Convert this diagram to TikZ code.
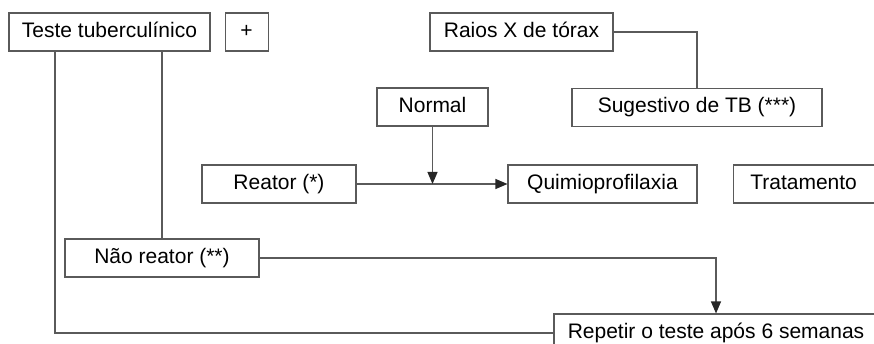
\documentclass[tikz,border=0pt]{standalone}
\usepackage{fontspec}
\setmainfont{Liberation Sans}
\usepackage{tikz}
\usetikzlibrary{positioning}
\usetikzlibrary{arrows.meta}

\definecolor{linegray}{HTML}{5A5A5A}

\tikzset{
  caixa/.style={draw=linegray, line width=1.1pt, rectangle, minimum height=38pt,
    inner sep=0pt, text height=15pt, text depth=4pt, text=black},
  liga/.style={draw=linegray, line width=1.1pt},
}

\begin{document}
\begin{tikzpicture}[x=1pt, y=-1pt, >={Triangle[width=10pt,length=12pt,color=black!85]},
    font=\fontsize{21}{25}\selectfont]
        \useasboundingbox (0,0) rectangle (874,344);

        % linha superior
        \node[caixa, minimum width=201pt] (teste) at (109.5,32) {Teste tuberculínico};
        \node[caixa, minimum width=43pt, right=14pt of teste] (mais) {+};
        \node[caixa, minimum width=183pt] (raios) at (521.5,32) {Raios X de tórax};

        % resultados da radiografia
        \node[caixa, minimum width=111pt] (normal) at (432.5,107) {Normal};
        \node[caixa, minimum width=250pt] (sugest) at (697,107.5) {Sugestivo de TB (***)};

        % condutas
        \node[caixa, minimum width=154pt] (reator) at (279,184) {Reator (*)};
        \node[caixa, minimum width=189pt] (quimio) at (602.5,184) {Quimioprofilaxia};
        \node[caixa, minimum width=141pt, right=35pt of quimio] (trat) {Tratamento};

        % não reatores
        \node[caixa, minimum width=194pt] (naoreator) at (162,258) {Não reator (**)};
        \node[caixa, minimum width=324pt] (repetir) at (716,333) {Repetir o teste após 6 semanas};

        % ligações
        \coordinate (esq) at (55,51);
        \coordinate (junta) at (normal |- reator);
        \draw[liga] (raios.east) -| (sugest.north);
        \draw[liga, ->] (reator.east) -- (quimio.west);
        \draw[liga, ->] (normal.south) -- (junta);
        \draw[liga] (teste.south -| naoreator.north) -- (naoreator.north);
        \draw[liga, ->] (naoreator.east) -| (repetir.north);
        \draw[liga] (teste.south -| esq) |- (repetir.west);

    \end{tikzpicture}
\end{document}
